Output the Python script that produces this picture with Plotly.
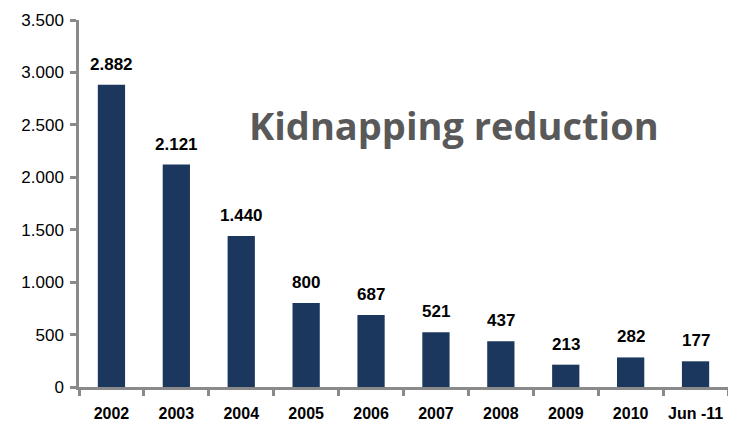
import plotly.graph_objects as go

categories = ["2002", "2003", "2004", "2005", "2006", "2007", "2008", "2009", "2010", "Jun -11"]
bar_values = [2882, 2121, 1440, 800, 687, 521, 437, 213, 282, 245]
label_texts = ["2.882", "2.121", "1.440", "800", "687", "521", "437", "213", "282", "177"]
y_tickvals = [0, 500, 1000, 1500, 2000, 2500, 3000, 3500]
y_ticktext = ["0", "500", "1.000", "1.500", "2.000", "2.500", "3.000", "3.500"]

fnt = "Liberation Sans, Arial"
fig = go.Figure(go.Bar(
    x=categories, y=bar_values,
    marker=dict(color="#1C375E", line=dict(width=0)),
    width=0.42, hoverinfo="x+y",
))

# category axis: annotation positions given as category index
label_annotations = [
    dict(x=i, y=v, text="<b>%s</b>" % t, xref="x", yref="y", showarrow=False,
         xanchor="center", yanchor="bottom", yshift=9,
         font=dict(family=fnt, size=17, color="#000000"))
    for i, (v, t) in enumerate(zip(bar_values, label_texts))
]

axis_grey = "#8A8A8A"
fig.update_layout(
    width=728, height=419,
    margin=dict(l=71, r=8, t=12, b=40, autoexpand=False),
    plot_bgcolor="white", paper_bgcolor="white",
    showlegend=False,
    font=dict(family=fnt, color="#000000"),
    xaxis=dict(
        type="category", showgrid=False, showline=True, linecolor=axis_grey, linewidth=2.5,
        ticks="outside", tickson="boundaries", ticklen=6, tickwidth=2.5, tickcolor=axis_grey,
        tickfont=dict(size=16, weight="bold", color="#000000"), ticklabelstandoff=10,
        tickangle=0, automargin=False, range=[-0.5, len(categories) - 0.5],
    ),
    yaxis=dict(
        range=[0, 3500], showgrid=False, zeroline=False, showline=True, linecolor=axis_grey, linewidth=2.5,
        ticks="outside", ticklen=6, tickwidth=2.5, tickcolor=axis_grey, automargin=False,
        tickvals=y_tickvals, ticktext=y_ticktext, tickfont=dict(size=17, color="#000000"),
        ticklabelstandoff=3,
    ),
    annotations=label_annotations + [dict(
        text="<b>Kidnapping reduction</b>", xref="paper", yref="paper",
        x=0.578, y=0.714, xanchor="center", yanchor="middle", showarrow=False,
        font=dict(family="Open Sans, Noto Sans", size=38, color="#595959"),
    )],
)

fig.write_html("out.html")
